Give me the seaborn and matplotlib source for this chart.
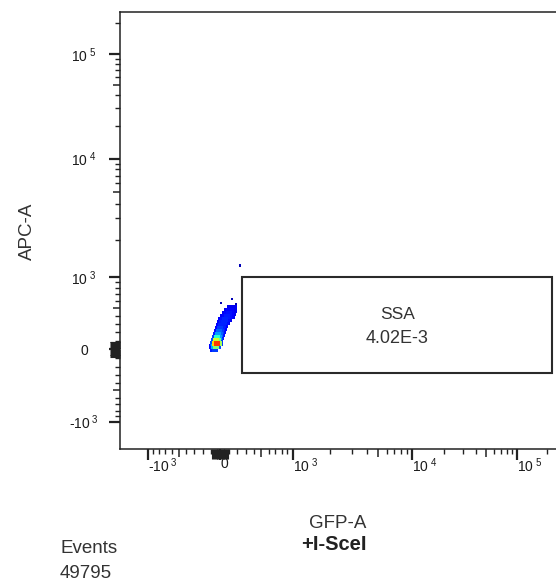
import numpy as np
import pandas as pd
import matplotlib
matplotlib.use("Agg")
import matplotlib.pyplot as plt
import seaborn as sns
from matplotlib.patches import Rectangle
from matplotlib.ticker import FixedLocator, FixedFormatter, NullFormatter

# ---------------- data ----------------
gfp = [-80, -58,
       -92, -69, -46, -23,
       -80, -58, -35, -12, 0,
       -69, -46, -23, 0,
       -58, -35, -12, 12,
       -46, -23, 0, 23,
       -35, -12, 12, 35,
       -23, 0, 23, 46,
       -12, 12, 35, 58,
       0, 23, 46, 69, 81,
       12, 35, 58, 81, 104,
       35, 58, 81, 104, 127, 139,
       58, 81, 104, 127, 150,
       81, 104, 127, 150, 162,
       115, 139, 162,
       12, 139, 186, 233]
apc = [0, 0,
       35, 35, 35, 35,
       69, 69, 69, 69, 69,
       104, 104, 104, 104,
       139, 139, 139, 139,
       174, 174, 174, 174,
       209, 209, 209, 209,
       245, 245, 245, 245,
       281, 281, 281, 281,
       317, 317, 317, 317, 317,
       354, 354, 354, 354, 354,
       391, 391, 391, 391, 391, 391,
       429, 429, 429, 429, 429,
       467, 467, 467, 467, 467,
       506, 506, 506,
       573, 628, 559, 1247]
density = [0.15, 0.18,
           0.12, 0.30, 0.50, 0.20,
           0.20, 0.68, 0.85, 0.55, 0.18,
           0.20, 0.60, 0.48, 0.18,
           0.18, 0.40, 0.28, 0.15,
           0.15, 0.28, 0.22, 0.14,
           0.13, 0.22, 0.18, 0.12,
           0.12, 0.18, 0.16, 0.12,
           0.12, 0.16, 0.15, 0.12,
           0.12, 0.15, 0.16, 0.14, 0.10,
           0.12, 0.14, 0.16, 0.14, 0.10,
           0.10, 0.13, 0.15, 0.14, 0.12, 0.10,
           0.10, 0.13, 0.14, 0.12, 0.10,
           0.10, 0.12, 0.12, 0.10, 0.10,
           0.10, 0.10, 0.10,
           0.05, 0.05, 0.05, 0.05]
weight = [1] * (len(gfp) - 4) + [0, 0, 0, 0]

major_ticks = [-1000, 0, 1000, 10000, 100000]
major_labels = [r"-$\mathregular{10^{\ 3}}$", "0", r"$\mathregular{10^{\ 3}}$",
                r"$\mathregular{10^{\ 4}}$", r"$\mathregular{10^{\ 5}}$"]
minor_ticks = [-900, -800, -700, -600, -400, -300, -200, -100,
               100, 200, 300, 400, 600, 700, 800, 900,
               2000, 3000, 4000, 6000, 7000, 8000, 9000,
               20000, 30000, 40000, 60000, 70000, 80000, 90000, 200000]
mid_ticks = [-500, 500, 5000, 50000]
zero_ticks = [-90, -80, -70, -60, -50, -40, -30, -20, -10,
              10, 20, 30, 40, 50, 60, 70, 80, 90]

axis_min, axis_max = -1670, 262144
gate_gfp = (259, 223000)
gate_apc = (-281, 995)
gate_name = "SSA"
gate_freq = "4.02E-3"
events = 49795
sample = "+I-SceI"

# ---------------- biexponential (logicle-like) scale ----------------
A_SCALE, P_SHAPE = 120.8, 3.2


def biex_inv(u):
    u = np.asarray(u, dtype=float)
    a = np.abs(u)
    f = 10 ** a - P_SHAPE ** 2 * 10 ** (-a / P_SHAPE) + P_SHAPE ** 2 - 1
    return np.sign(u) * A_SCALE * f


_U = np.linspace(-4.0, 4.0, 80001)
_S = biex_inv(_U)


def biex_fwd(v):
    return np.interp(np.asarray(v, dtype=float), _S, _U)


# ---------------- styling ----------------
sns.set_style("white")
plt.rcParams["font.family"] = ["Liberation Sans", "DejaVu Sans"]
plt.rcParams["mathtext.fontset"] = "custom"
plt.rcParams["mathtext.rm"] = "Liberation Sans"
plt.rcParams["mathtext.it"] = "Liberation Sans:italic"
plt.rcParams["mathtext.bf"] = "Liberation Sans:bold"

W, H = 556, 581
fig = plt.figure(figsize=(W / 100, H / 100), dpi=100)
rect = [120 / W, (H - 449) / H, 439.5 / W, 437.5 / H]
ax = fig.add_axes(rect)

df = pd.DataFrame({"GFP-A": gfp, "APC-A": apc, "density": density,
                   "weight": weight}).sort_values("density")
sns.scatterplot(data=df, x="GFP-A", y="APC-A", hue="density",
                palette=matplotlib.colormaps["jet"], hue_norm=(0, 1),
                size="weight", sizes=(3, 15), size_norm=(0, 1),
                marker="s", linewidth=0, legend=False, ax=ax)

ax.set_xscale("function", functions=(biex_fwd, biex_inv))
ax.set_yscale("function", functions=(biex_fwd, biex_inv))
ax.set_xlim(axis_min, axis_max)
ax.set_ylim(axis_min, axis_max)

dark = "#222222"
for axis in (ax.xaxis, ax.yaxis):
    axis.set_major_locator(FixedLocator(major_ticks))
    axis.set_major_formatter(FixedFormatter(major_labels))
    axis.set_minor_locator(FixedLocator(minor_ticks))
    axis.set_minor_formatter(NullFormatter())

ax.tick_params(which="major", direction="out", length=7.9, width=1.6, color=dark,
               labelsize=10, labelcolor="#1a1a1a")
ax.tick_params(which="minor", direction="out", length=3.6, width=1.0, color=dark)
ax.tick_params(axis="x", which="both", bottom=True, top=False)
ax.tick_params(axis="y", which="both", left=True, right=False)
ax.tick_params(axis="y", which="major", pad=18)
ax.tick_params(axis="x", which="major", pad=-2.5)
plt.setp(ax.get_yticklabels(), ha="center")
plt.setp(ax.get_xticklabels(), ha="left")

for sp in ax.spines.values():
    sp.set_visible(True)
    sp.set_color(dark)
    sp.set_linewidth(1.1)

# overlay axes for the medium ticks (5 x 10^n) and the dense block around zero
ax2 = fig.add_axes(rect)
ax2.set_xscale("function", functions=(biex_fwd, biex_inv))
ax2.set_yscale("function", functions=(biex_fwd, biex_inv))
ax2.set_xlim(axis_min, axis_max)
ax2.set_ylim(axis_min, axis_max)
ax2.patch.set_visible(False)
for sp in ax2.spines.values():
    sp.set_visible(False)
for axis in (ax2.xaxis, ax2.yaxis):
    axis.set_major_locator(FixedLocator(mid_ticks))
    axis.set_major_formatter(NullFormatter())
    axis.set_minor_locator(FixedLocator(zero_ticks))
    axis.set_minor_formatter(NullFormatter())
ax2.tick_params(which="major", direction="out", length=5.4, width=1.1, color=dark,
                left=True, bottom=True, top=False, right=False)
ax2.tick_params(which="minor", direction="out", length=7.2, width=0.8, color=dark,
                left=True, bottom=True, top=False, right=False)

# gate
gate = Rectangle((gate_gfp[0], gate_apc[0]), gate_gfp[1] - gate_gfp[0],
                 gate_apc[1] - gate_apc[0], fill=False, edgecolor="#2a2a2a", linewidth=1.5)
ax.add_patch(gate)
cx = float(biex_inv((biex_fwd(gate_gfp[0]) + biex_fwd(gate_gfp[1])) / 2))
cy = float(biex_inv((biex_fwd(gate_apc[0]) + biex_fwd(gate_apc[1])) / 2))
ax.annotate(gate_name, xy=(cx, cy), xytext=(0, 4.3), textcoords="offset points",
            ha="center", va="baseline", fontsize=12.5, color="#333333")
ax.annotate(gate_freq, xy=(cx, cy), xytext=(0, -13.0), textcoords="offset points",
            ha="center", va="baseline", fontsize=13, color="#333333")

# axis labels
ax.set_xlabel("GFP-A", fontsize=13.5, color="#333333")
ax.set_ylabel("APC-A", fontsize=13.5, color="#333333")
ax.xaxis.set_label_coords((338 - 120) / 439.5, (449 - 528) / 437.5)
ax.xaxis.label.set_va("baseline")
ax.yaxis.set_label_coords((27.5 - 120) / 439.5, (449 - 231) / 437.5)
ax.yaxis.label.set_va("center")

fig.text(334 / W, 1 - 550 / H, sample, ha="center", va="baseline",
         fontsize=14.5, fontweight="bold", color="#222222")
fig.text(60 / W, 1 - 553 / H, "Events", ha="left", va="baseline",
         fontsize=13.5, color="#333333")
fig.text(60 / W, 1 - 578 / H, str(events), ha="left", va="baseline",
         fontsize=13.5, color="#333333")

fig.savefig("out.png", dpi=100)
